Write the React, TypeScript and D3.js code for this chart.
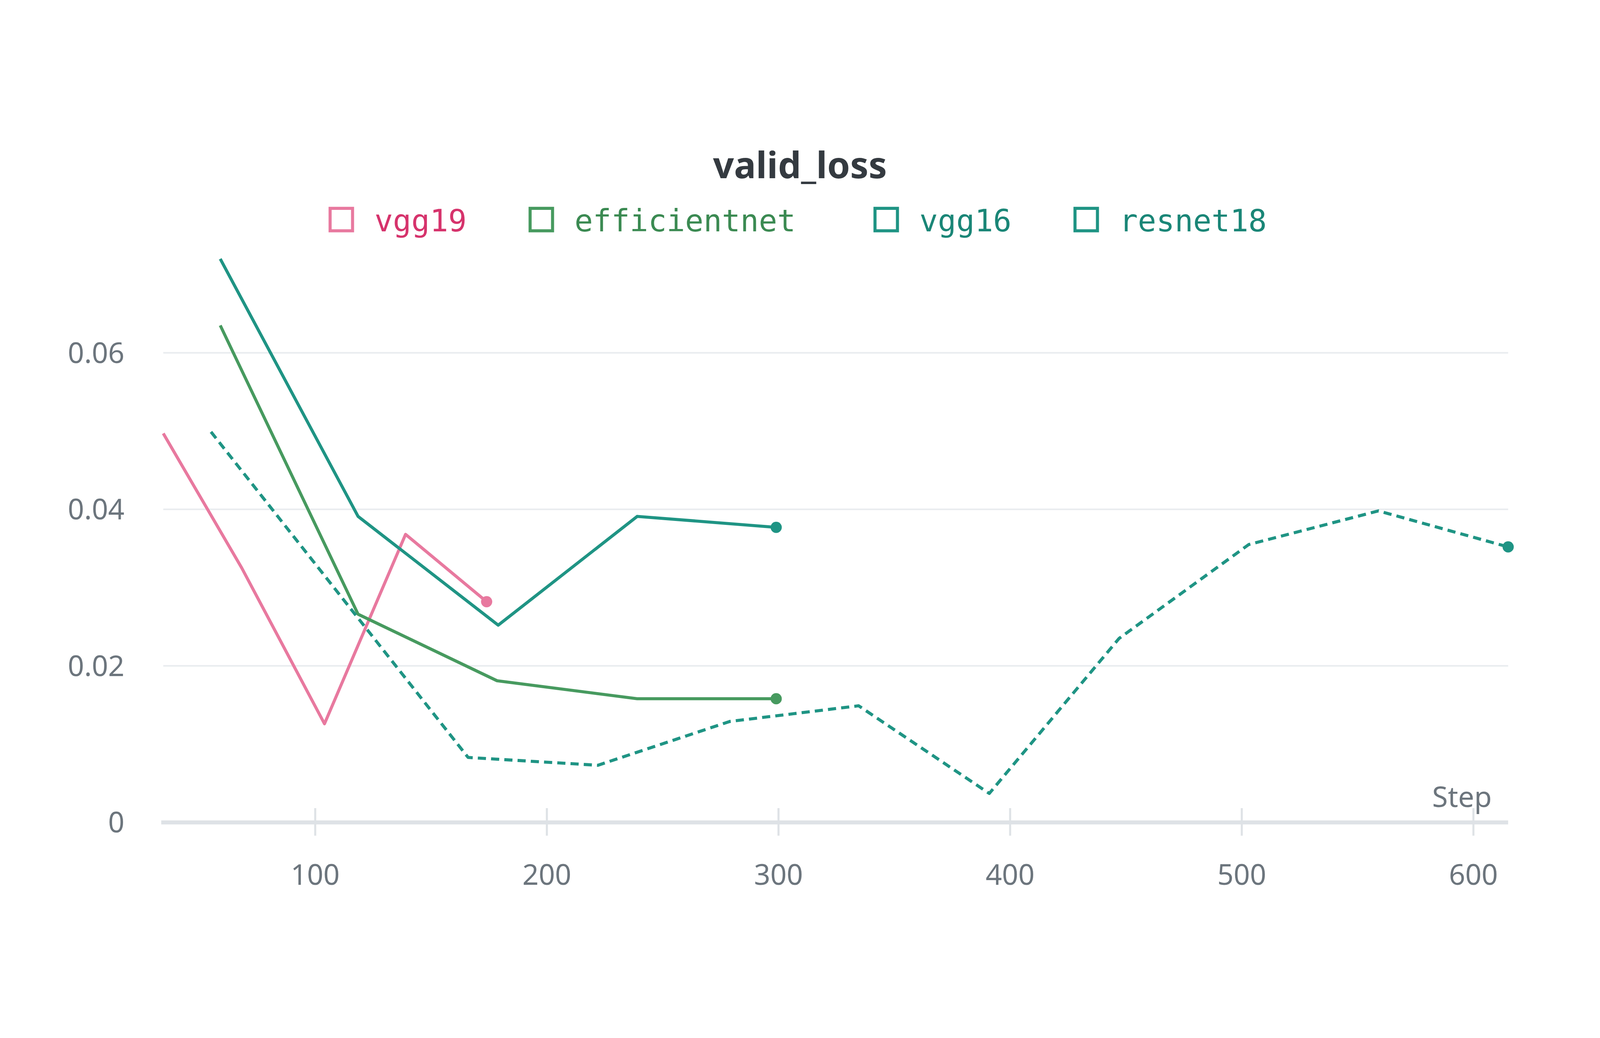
import React from 'react';
import * as d3 from 'd3';

const seriesNames = ['vgg19', 'efficientnet', 'vgg16', 'resnet18'];
const seriesColors = ['#e8799f', '#479a5f', '#1f9484', '#1f9484'];
const legendTextColors = ['#d6336c', '#3b8a52', '#1a8677', '#1a8677'];
const vgg19 = [[34.4, 0.0497], [68.3, 0.0325], [104, 0.0126], [139, 0.0368], [174, 0.0282]];
const efficientnet = [[59, 0.0635], [118.5, 0.0266], [178.5, 0.0181], [239, 0.0158], [299, 0.0158]];
const vgg16 = [[59, 0.072], [118.5, 0.0391], [179, 0.0252], [239, 0.0391], [299, 0.0377]];
const resnet18 = [[55, 0.0499], [166, 0.0083], [222, 0.0073], [279, 0.0129], [334.6, 0.0149], [391, 0.0037], [447, 0.0235], [503, 0.0355], [559, 0.0398], [615, 0.0352]];
const xTicks = [100, 200, 300, 400, 500, 600];
const yTicks = [0, 0.02, 0.04, 0.06];
const yTickLabels = ['0', '0.02', '0.04', '0.06'];

const W = 1568, H = 823.6;

export default function App() {
  const x = d3.scaleLinear().domain([34.4, 615]).range([160, 1478]);
  const y = d3.scaleLinear().domain([0, 0.06]).range([709, 249]);
  const line = d3.line<number[]>().x(d => x(d[0])).y(d => y(d[1]));
  const all = [vgg19, efficientnet, vgg16, resnet18];
  const legendX = [322, 518, 856, 1052];
  return (
    <svg viewBox={`0 0 ${W} ${H}`} preserveAspectRatio="xMidYMid meet"
      style={{ position: 'fixed', left: 0, top: 0, width: '100vw', height: '100vh', background: '#fff' }}>
      <text x={784} y={78} textAnchor="middle" fontFamily="'Noto Sans', sans-serif" fontWeight="bold"
        fontSize={36} fill="#343a40">valid_loss</text>
      {seriesNames.map((n, i) => (
        <g key={n} transform={`translate(${legendX[i]},106)`}>
          <rect x={1.5} y={1.5} width={22} height={22} fill="none" stroke={seriesColors[i]} strokeWidth={3} />
          <text x={45} y={24} fontFamily="'DejaVu Sans Mono', monospace" fontSize={30}
            fill={legendTextColors[i]}>{n}</text>
        </g>
      ))}
      {yTicks.filter(t => t > 0).map(t => (
        <line key={t} x1={160} x2={1478} y1={y(t)} y2={y(t)} stroke="#e9ecef" strokeWidth={1.5} />
      ))}
      {yTicks.map((t, i) => (
        <text key={t} x={122} y={y(t) + 10} textAnchor="end" fontFamily="'Noto Sans', sans-serif"
          fontSize={28} fill="#6c757d">{yTickLabels[i]}</text>
      ))}
      <line x1={158} x2={1478} y1={709} y2={709} stroke="#dee2e6" strokeWidth={4} />
      {xTicks.map(t => (
        <g key={t}>
          <line x1={x(t)} x2={x(t)} y1={695} y2={722} stroke="#dee2e6" strokeWidth={2} />
          <text x={x(t)} y={770} textAnchor="middle" fontFamily="'Noto Sans', sans-serif"
            fontSize={28} fill="#6c757d">{t}</text>
        </g>
      ))}
      <text x={1462} y={694} textAnchor="end" fontFamily="'Noto Sans', sans-serif" fontSize={28}
        fill="#6c757d">Step</text>
      {all.map((s, i) => {
        const last = s[s.length - 1];
        return (
          <g key={i}>
            <path d={line(s) || ''} fill="none" stroke={seriesColors[i]} strokeWidth={3}
              strokeDasharray={i === 3 ? '8 5' : undefined} strokeLinejoin="round" />
            <circle cx={x(last[0])} cy={y(last[1])} r={5.5} fill={seriesColors[i]} />
          </g>
        );
      })}
    </svg>
  );
}
